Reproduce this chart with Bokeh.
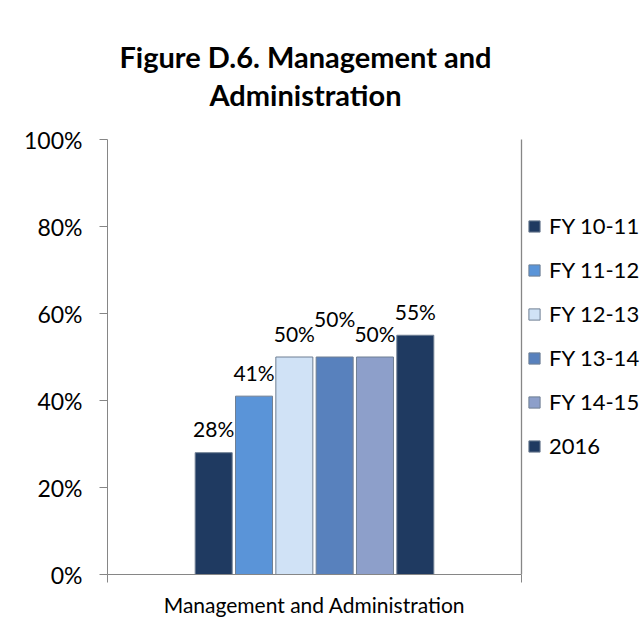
from bokeh.plotting import figure
from bokeh.models import (ColumnDataSource, Range1d, LinearAxis, Label,
                          FixedTicker, NumeralTickFormatter, Legend, LegendItem)
from bokeh.transform import dodge
from bokeh.core.properties import value
from bokeh.embed import file_html
from bokeh.resources import INLINE

# ---- data ----
categories = ["Management and Administration"]
series = ["FY 10-11", "FY 11-12", "FY 12-13", "FY 13-14", "FY 14-15", "2016"]
values = [0.28, 0.41, 0.50, 0.50, 0.50, 0.55]
y_ticks = [0, 0.2, 0.4, 0.6, 0.8, 1.0]
title_lines = ["Figure D.6. Management and", "Administration"]

# ---- styles / layout ----
colors = ["#1f3a61", "#5a94d8", "#d0e2f6", "#5881bd", "#8d9fca", "#1f3a61"]
label_lift = [-24, -24, -24, -39, -24, -24]
FONT = "Lato"
GRAY = "#868686"
W, H = 640, 628
LEFT, BOTTOM = 107, 54          # space for the y axis / x axis
PX_X = 414                      # pixels per category on x
PX_Y = 435                      # pixels per 100% on y
frame_w = W - LEFT
frame_h = H - BOTTOM

ncat = len(categories)
cat_centers = [i + 0.5 for i in range(ncat)]
y_max = y_ticks[-1]

p = figure(width=W, height=H,
           x_range=Range1d(0, ncat * frame_w / PX_X),
           y_range=Range1d(0, y_max * frame_h / PX_Y),
           output_backend="svg", toolbar_location=None,
           x_axis_location=None, y_axis_location=None,
           min_border_left=LEFT, min_border_right=0, min_border_top=0, min_border_bottom=BOTTOM)
p.title.visible = False
p.outline_line_color = None
p.xgrid.grid_line_color = None
p.ygrid.grid_line_color = None

step = 0.0974
bar_w = 0.0894
items = []
for i, (s, v, c) in enumerate(zip(series, values, colors)):
    off = (i - (len(series) - 1) / 2) * step
    src = ColumnDataSource(dict(xc=[cat_centers[0]], val=[v], lab=[f"{round(v*100)}%"]))
    r = p.vbar(x=dodge("xc", off), top="val", width=bar_w, source=src,
               fill_color=c, line_color="#6f7f93", line_width=1)
    p.text(x=dodge("xc", off), y="val", text="lab", source=src,
           text_font=value(FONT), text_font_size="21px", text_align="center",
           text_baseline="middle", y_offset=label_lift[i], text_color="#000000")
    items.append(LegendItem(label=s, renderers=[r]))

# right edge line of the plot area
p.segment(x0=[ncat], y0=[y_ticks[0]], x1=[ncat], y1=[y_max], line_color=GRAY, line_width=1.3)

# y axis (left)
yax = LinearAxis(ticker=FixedTicker(ticks=y_ticks), formatter=NumeralTickFormatter(format="0%"),
                 bounds=(y_ticks[0], y_max))
yax.axis_line_color = GRAY
yax.major_tick_line_color = GRAY
yax.major_tick_out = 8
yax.major_tick_in = 0
yax.minor_tick_line_color = None
yax.major_label_text_font = FONT
yax.major_label_text_font_size = "23px"
yax.major_label_text_color = "#000000"
yax.major_label_standoff = 17
p.add_layout(yax, "left")

# bottom edge axis with category-boundary ticks
eax = LinearAxis(ticker=FixedTicker(ticks=list(range(ncat + 1))), major_label_text_font_size="0px",
                 bounds=(0, ncat))
eax.axis_line_color = GRAY
eax.major_tick_line_color = GRAY
eax.major_tick_out = 8
eax.major_tick_in = 0
eax.minor_tick_line_color = None
eax.major_label_standoff = 0
p.add_layout(eax, "below")

# category label axis
cax = LinearAxis(ticker=FixedTicker(ticks=cat_centers),
                 major_label_overrides={c: n for c, n in zip(cat_centers, categories)})
cax.axis_line_color = None
cax.major_tick_line_color = None
cax.minor_tick_line_color = None
cax.major_label_text_font = FONT
cax.major_label_text_font_size = "21px"
cax.major_label_text_color = "#000000"
cax.major_label_standoff = 3
p.add_layout(cax, "below")

# legend, to the right of the plot area
legend = Legend(items=items, location=(420, 115), orientation="vertical")
legend.label_text_font = FONT
legend.label_text_font_size = "22px"
legend.label_text_color = "#000000"
legend.glyph_width = 14
legend.glyph_height = 14
legend.label_height = 26
legend.label_standoff = 8
legend.spacing = 17
legend.padding = 0
legend.margin = 0
legend.border_line_color = None
legend.background_fill_alpha = 0
p.add_layout(legend, "center")

# two-line title above the plot area
title_px = [56, 94]   # vertical centre of each line, pixels from the top
for txt, ty in zip(title_lines, title_px):
    p.add_layout(Label(x=ncat / 2, y=(frame_h - ty) / PX_Y, text=txt, x_offset=-9,
                       text_font=FONT, text_font_size="29px", text_font_style="bold",
                       text_color="#000000", text_align="center", text_baseline="middle"))

open("out.html", "w").write(file_html(p, INLINE))
